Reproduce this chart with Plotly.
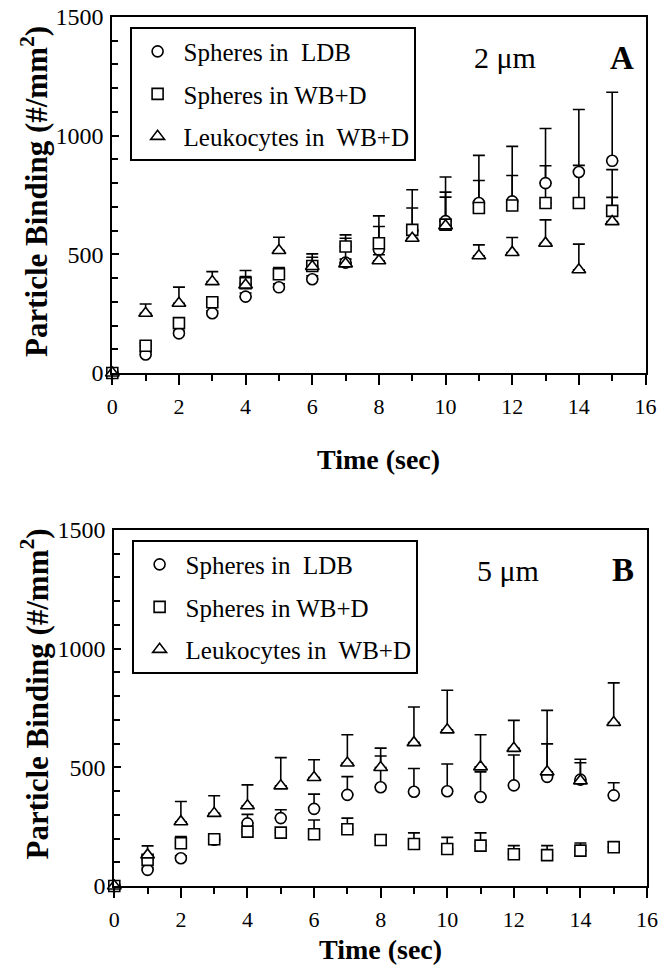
import plotly.graph_objects as go

# ---------------- data ----------------
time_s = list(range(16))

# Panel A: 2 um
a_ldb = [0, 78, 167, 252, 322, 361, 395, 465, 520, 600, 640, 716, 723, 800, 847, 894]
a_ldb_err = [0, 10, 10, 10, 15, 15, 15, 117, 142, 172, 186, 201, 232, 230, 263, 289]
a_wbd = [0, 115, 210, 298, 378, 416, 451, 533, 547, 603, 625, 695, 706, 716, 716, 683]
a_wbd_err = [0, 10, 10, 15, 28, 28, 37, 35, 70, 92, 137, 116, 126, 157, 159, 174]
a_leu = [0, 252, 294, 385, 371, 516, 449, 460, 473, 568, 620, 494, 508, 547, 435, 638]
a_leu_err = [0, 39, 68, 42, 61, 56, 53, 20, 25, 30, 121, 46, 63, 98, 108, 102]

# Panel B: 5 um
b_ldb = [0, 68, 117, 195, 264, 286, 325, 384, 416, 397, 399, 375, 424, 460, 448, 382]
b_ldb_err = [0, 10, 10, 10, 38, 35, 62, 77, 132, 98, 115, 106, 128, 139, 71, 53]
b_wbd = [0, 110, 180, 197, 229, 225, 218, 239, 194, 177, 156, 170, 134, 130, 149, 163]
b_wbd_err = [0, 10, 28, 10, 10, 10, 60, 47, 15, 47, 49, 54, 36, 40, 32, 24]
b_leu = [0, 131, 271, 306, 338, 422, 457, 518, 499, 604, 658, 502, 580, 481, 443, 689]
b_leu_err = [0, 38, 85, 74, 88, 119, 75, 119, 82, 150, 167, 135, 118, 259, 91, 167]

names = ["Spheres in\u00a0 LDB", "Spheres in WB+D", "Leukocytes in\u00a0 WB+D"]
symbols_fill = ["circle", "square", "triangle-up"]
sizes = [11, 11, 12]
panel_sizes = ["2 \u03bcm", "5 \u03bcm"]
panel_letters = ["A", "B"]
y_title = "Particle Binding (#/mm<sup>2</sup>)"
x_title = "Time (sec)"

W, H = 660, 970
SERIF = "Liberation Serif"

fig = go.Figure()

panels = [
    ("x", "y", "legend", [(a_ldb, a_ldb_err), (a_wbd, a_wbd_err), (a_leu, a_leu_err)]),
    ("x2", "y2", "legend2", [(b_ldb, b_ldb_err), (b_wbd, b_wbd_err), (b_leu, b_leu_err)]),
]

for xa, ya, lg, series in panels:
    # error bars first so the open markers sit on top
    for (vals, err) in series:
        fig.add_trace(go.Scatter(
            x=time_s, y=vals, xaxis=xa, yaxis=ya, mode="markers",
            marker=dict(size=1, color="rgba(0,0,0,0)"),
            error_y=dict(type="data", symmetric=False, array=err,
                         arrayminus=[0] * len(err), color="black",
                         thickness=1.6, width=6),
            showlegend=False, hoverinfo="skip", cliponaxis=False,
        ))
    for i, (vals, err) in enumerate(series):
        fig.add_trace(go.Scatter(
            x=time_s, y=vals, xaxis=xa, yaxis=ya, mode="markers",
            name=names[i], legend=lg, legendgroup=lg + str(i),
            marker=dict(symbol=symbols_fill[i], size=sizes[i], color="white",
                        line=dict(color="black", width=1.6)),
            cliponaxis=False,
        ))


def xaxis_cfg(domain, anchor):
    return dict(domain=domain, anchor=anchor, range=[0, 16], tick0=0, dtick=2,
                ticks="outside", ticklen=10, tickwidth=1.6, tickcolor="black",
                minor=dict(dtick=1, ticks="outside", ticklen=6, tickwidth=1.6,
                           tickcolor="black"),
                showline=True, linewidth=2, linecolor="black", mirror=True,
                showgrid=False, zeroline=False, automargin=False,
                tickfont=dict(family=SERIF, size=22, color="black"),
                ticklabelstandoff=3)


def yaxis_cfg(domain, anchor):
    return dict(domain=domain, anchor=anchor, range=[0, 1500], tick0=0, dtick=500,
                ticks="inside", ticklen=7, tickwidth=1.6, tickcolor="black",
                minor=dict(dtick=100, ticks="inside", ticklen=6, tickwidth=1.6,
                           tickcolor="black"),
                showline=True, linewidth=2, linecolor="black", mirror=True,
                showgrid=False, zeroline=False, automargin=False,
                tickfont=dict(family=SERIF, size=24, color="black"),
                ticklabelstandoff=2)


def px(x):
    return x / W


def py(y):
    return 1 - y / H


legend_common = dict(
    xanchor="left", yanchor="top", bgcolor="white", bordercolor="black",
    borderwidth=1.6, font=dict(family=SERIF, size=25, color="black"),
    tracegroupgap=7, itemsizing="trace", itemwidth=42,
)


def ann(text, x, y, size, angle=0):
    return dict(text=text, x=px(x), y=py(y), textangle=angle,
                font=dict(family=SERIF, size=size, color="black"),
                xref="paper", yref="paper", showarrow=False,
                xanchor="center", yanchor="middle")


annotations = [
    ann("<b>" + y_title + "</b>", 34.5, 191.5, 31, -90),
    ann("<b>" + y_title + "</b>", 34.5, 694, 31, -90),
    ann("<b>" + x_title + "</b>", 378, 459, 28),
    ann("<b>" + x_title + "</b>", 380, 949, 28),
    ann(panel_sizes[0], 505, 57, 30),
    ann("<b>" + panel_letters[0] + "</b>", 622, 58, 33),
    ann(panel_sizes[1], 508, 570, 30),
    ann("<b>" + panel_letters[1] + "</b>", 623, 570, 33),
]

fig.update_layout(
    template="none",
    width=W, height=H,
    margin=dict(l=0, r=0, t=0, b=0, pad=0, autoexpand=False),
    font=dict(family=SERIF, color="black"),
    paper_bgcolor="white", plot_bgcolor="white",
    xaxis=xaxis_cfg([px(112.3), px(645.5)], "y"),
    yaxis=yaxis_cfg([py(373), py(17)], "x"),
    xaxis2=xaxis_cfg([px(114.3), px(647)], "y2"),
    yaxis2=yaxis_cfg([py(886), py(530)], "x2"),
    legend=dict(x=px(130), y=py(27), **legend_common),
    legend2=dict(x=px(132), y=py(540), **legend_common),
    annotations=annotations,
    showlegend=True,
)

fig.write_html("out.html")
